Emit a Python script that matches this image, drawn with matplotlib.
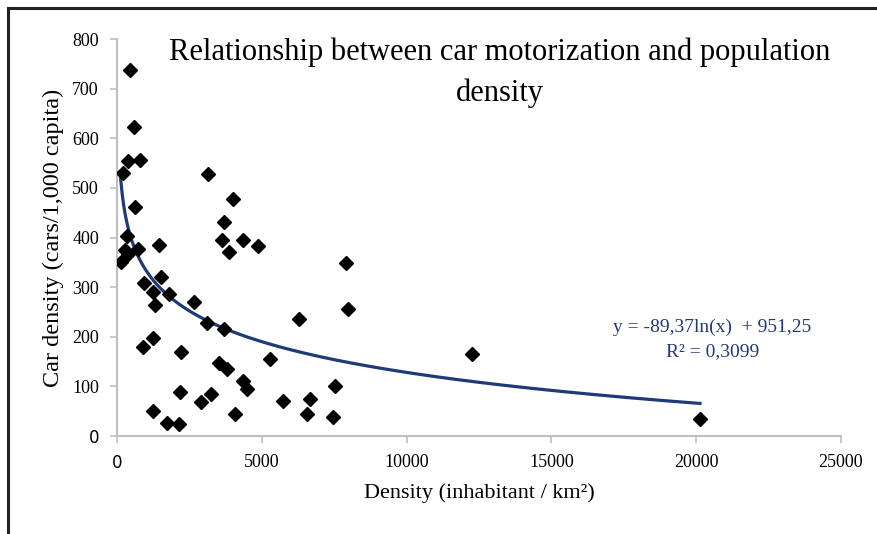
import numpy as np
import matplotlib.pyplot as plt
from matplotlib.lines import Line2D

# densidad (hab/km2) y motorizacion (autos / 1000 hab)
densidad = [449, 587, 390, 794, 197, 3153, 3995, 611, 3695, 335,
            3615, 4362, 4858, 1450, 276, 390, 736, 127, 3880, 932,
            1519, 1232, 1807, 1312, 2670, 3097, 3695, 6280, 1232, 886,
            2221, 5283, 3510, 3787, 4362, 4478, 2175, 3235, 2890, 5730,
            1255, 4075, 1715, 2152, 7896, 7965, 12269, 7539, 6676, 6572,
            7448, 20131]
autos = [738, 623, 554, 556, 530, 527, 478, 462, 431, 404,
         395, 395, 382, 384, 375, 366, 376, 351, 370, 308,
         321, 291, 286, 264, 270, 228, 215, 236, 198, 179,
         169, 156, 147, 136, 110, 95, 89, 85, 68, 71,
         51, 44, 26, 24, 349, 255, 165, 101, 75, 44,
         38, 34]

# coeficientes de la tendencia logaritmica
coef_a = -89.37
coef_b = 951.25
r2 = 0.3099

serif = "Liberation Serif"
azul = "#1F3A78"

fig = plt.figure(figsize=(8.78, 5.34), dpi=100)
ax = fig.add_axes([117/878, 98/534, 724/878, 397/534])

ax.plot(densidad, autos, linestyle="none", marker="D", ms=7,
        color="black", zorder=3)

xs = np.linspace(min(densidad), max(densidad), 400)
ax.plot(xs, coef_a * np.log(xs) + coef_b, color=azul, lw=2.3, zorder=2)

ax.set_xlim(0, 25000)
ax.set_ylim(0, 800)
ax.set_xticks(range(0, 25001, 5000))
ax.set_yticks(range(0, 801, 100))

for s in ["top", "right"]:
    ax.spines[s].set_visible(False)
for s in ["left", "bottom"]:
    ax.spines[s].set_color("#BFBFBF")
    ax.spines[s].set_linewidth(1.5)
ax.tick_params(colors="#BFBFBF", length=5, width=1.2, labelcolor="black",
               labelsize=13, pad=8)
for lab in ax.get_xticklabels() + ax.get_yticklabels():
    if lab.get_text() == "0":
        lab.set_family("DejaVu Sans")
        lab.set_fontsize(12)
    else:
        lab.set_family(serif)

ax.set_xlabel("Density (inhabitant / km²)", family=serif, fontsize=16, labelpad=8)
ax.set_ylabel("Car density (cars/1,000 capita)", family=serif, fontsize=17.5, labelpad=6)

fig.text(500/878, 1 - 73/534,
         "Relationship between car motorization and population\ndensity",
         family=serif, fontsize=22, ha="center", va="center", linespacing=1.5)

fig.text(712/878, 1 - 327/534,
         f"y = {coef_a:.2f}ln(x)  + {coef_b:.2f}".replace(".", ","),
         family=serif, fontsize=14, color=azul, ha="center", va="center")
fig.text(713/878, 1 - 352/534, f"R² = {r2:.4f}".replace(".", ","),
         family=serif, fontsize=14, color=azul, ha="center", va="center")

# marco
fig.add_artist(Line2D([8/878, 1], [1 - 8/534, 1 - 8/534], color="#222222", lw=2.2))
fig.add_artist(Line2D([8/878, 8/878], [0, 1 - 8/534], color="#222222", lw=2.2))

fig.savefig("out.png", dpi=100)
